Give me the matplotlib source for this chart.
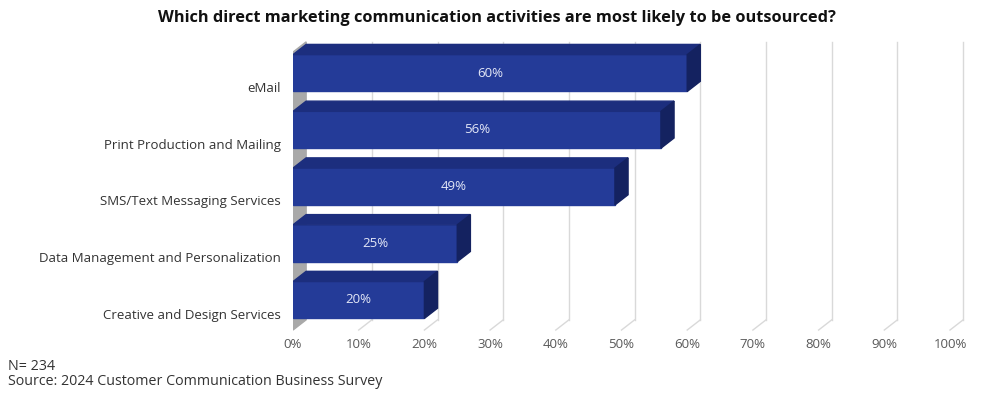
import matplotlib.pyplot as plt

plt.rcParams['font.family'] = ['Open Sans', 'DejaVu Sans']

# data
categories = ['eMail', 'Print Production and Mailing', 'SMS/Text Messaging Services',
              'Data Management and Personalization', 'Creative and Design Services']
values = [60, 56, 49, 25, 20]
ticks = [0, 10, 20, 30, 40, 50, 60, 70, 80, 90, 100]
title = 'Which direct marketing communication activities are most likely to be outsourced?'

# 3d look
dx, dy = 2.0, 0.18      # depth offset (percent, category units)
bar_h = 0.65
front_c, top_c, side_c = '#243b98', '#1c2e7e', '#142260'
grid_c = '#d9d9d9'

fig = plt.figure(figsize=(10, 3.95), dpi=100)
ax = fig.add_axes([0.293, 0.1544, 0.657, 0.7468])
ax.set_xlim(0, 100)
ax.set_ylim(-0.6, 4.6)
ax.axis('off')

floor_f = -0.53
floor_b = floor_f + dy
top_b = 4.55

# left wall
ax.fill([0, dx, dx, 0], [floor_f, floor_b, top_b, top_b - dy], color='#a9a9a9', zorder=1)

# grid: back lines + floor diagonals
for t in ticks[1:]:
    ax.plot([t + dx, t + dx], [floor_b, top_b], color=grid_c, lw=1, zorder=0, clip_on=False)
    ax.plot([t, t + dx], [floor_f, floor_b], color=grid_c, lw=1, zorder=0, clip_on=False)

for t in ticks:
    ax.text(t, floor_f - 0.25, f'{t}%', ha='center', va='center', fontsize=9.5, color='#595959')

n = len(categories)
for i, (cat, v) in enumerate(zip(categories, values)):
    y = n - 1 - i
    y0, y1 = y - bar_h / 2, y + bar_h / 2
    ax.fill([0, v, v, 0], [y0, y0, y1, y1], color=front_c, zorder=3)
    ax.fill([0, v, v + dx, dx], [y1, y1, y1 + dy, y1 + dy], color=top_c, zorder=3)
    ax.fill([v, v + dx, v + dx, v], [y0, y0 + dy, y1 + dy, y1], color=side_c, zorder=3)
    ax.text(v / 2, y, f'{v}%', ha='center', va='center', fontsize=9.5, color='#e4e8f7', zorder=4)
    ax.text(-1.8, y - 0.27, cat, ha='right', va='center', fontsize=9.5, color='#333333')

fig.text(0.497, 0.955, title, ha='center', va='center', fontsize=11.8, fontweight='bold', color='#111111')
fig.text(0.008, 0.073, 'N= 234', ha='left', va='center', fontsize=10.3, color='#333333')
fig.text(0.008, 0.033, 'Source: 2024 Customer Communication Business Survey', ha='left', va='center',
         fontsize=10.3, color='#333333')

fig.savefig('out.png', dpi=100, facecolor='white')
